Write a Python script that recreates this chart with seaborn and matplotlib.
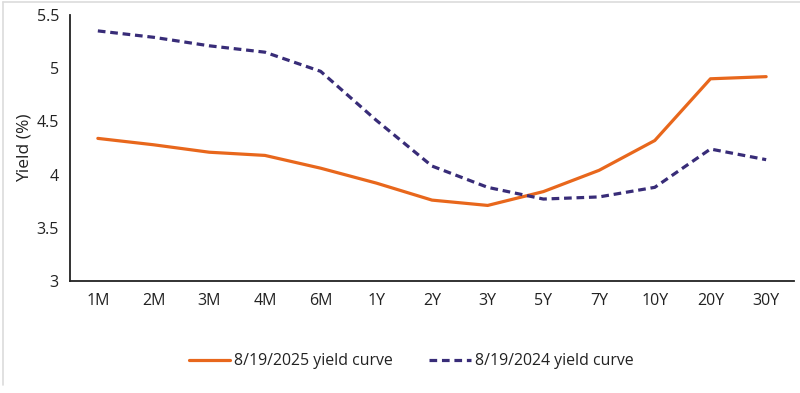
import numpy as np
import pandas as pd
import seaborn as sns
import matplotlib.pyplot as plt
from matplotlib.lines import Line2D

# Data
tenors = ['1M', '2M', '3M', '4M', '6M', '1Y', '2Y', '3Y', '5Y', '7Y', '10Y', '20Y', '30Y']
yield_2025 = [4.34, 4.28, 4.21, 4.18, 4.06, 3.92, 3.76, 3.71, 3.84, 4.04, 4.32, 4.90, 4.92]
yield_2024 = [5.35, 5.29, 5.21, 5.15, 4.97, 4.51, 4.08, 3.88, 3.77, 3.79, 3.88, 4.24, 4.14]
label_2025 = '8/19/2025 yield curve'
label_2024 = '8/19/2024 yield curve'
y_ticks = [3, 3.5, 4, 4.5, 5, 5.5]
y_ticklabels = ['3', '3.5', '4', '4.5', '5', '5.5']

orange = '#E8671C'
navy = '#382C78'
text_color = '#222222'

sns.set_style('white')
plt.rcParams['font.family'] = ['Open Sans', 'DejaVu Sans']
plt.rcParams['font.size'] = 10

df = pd.DataFrame({'tenor': tenors, 'y2025': yield_2025, 'y2024': yield_2024})
df['pos'] = np.arange(len(tenors))

fig = plt.figure(figsize=(8, 3.93), dpi=100)
ax = fig.add_axes([0.0875, 0.285, 0.905, 0.677])

sns.lineplot(data=df, x='pos', y='y2025', ax=ax, color=orange, linewidth=2.3,
             label=label_2025)
sns.lineplot(data=df, x='pos', y='y2024', ax=ax, color=navy, linewidth=2.3,
             linestyle=(0, (2.4, 1.5)), label=label_2024)

# axes styling
ax.set_xlim(-0.5, len(tenors) - 0.5)
ax.set_ylim(3, 5.5)
ax.set_yticks(y_ticks)
ax.set_yticklabels(y_ticklabels)
ax.set_xticks(np.arange(len(tenors) + 1) - 0.5)
ax.set_xticklabels([])
ax.set_xticks(np.arange(len(tenors)), minor=True)
ax.set_xticklabels(tenors, minor=True)
ax.tick_params(axis='x', which='major', length=5, width=1.2, direction='out', color=text_color)
ax.tick_params(axis='x', which='minor', length=0, pad=9, labelsize=11.5, labelcolor=text_color)
ax.tick_params(axis='y', length=4, width=1.2, direction='out', color=text_color,
               labelsize=11.5, labelcolor=text_color, pad=4)
ax.set_xlabel('')
ax.set_ylabel('Yield (%)', fontsize=12.5, color=text_color, labelpad=3)
sns.despine(ax=ax)
for side in ['left', 'bottom']:
    ax.spines[side].set_linewidth(1.3)
    ax.spines[side].set_color(text_color)

# legend
ax.legend(loc='center', bbox_to_anchor=(0.514, 0.081), bbox_transform=fig.transFigure,
          ncol=2, frameon=False, fontsize=11.4, handlelength=2.6, handletextpad=0.25,
          columnspacing=2.3, labelcolor=text_color)

# light border on top and left of the figure
fig.lines.append(Line2D([0.004, 1.0], [0.995, 0.995], transform=fig.transFigure,
                        color='#dcdcdc', linewidth=1.2))
fig.lines.append(Line2D([0.004, 0.004], [0.995, 0.02], transform=fig.transFigure,
                        color='#dcdcdc', linewidth=1.2))

fig.savefig('out.png', dpi=100)
